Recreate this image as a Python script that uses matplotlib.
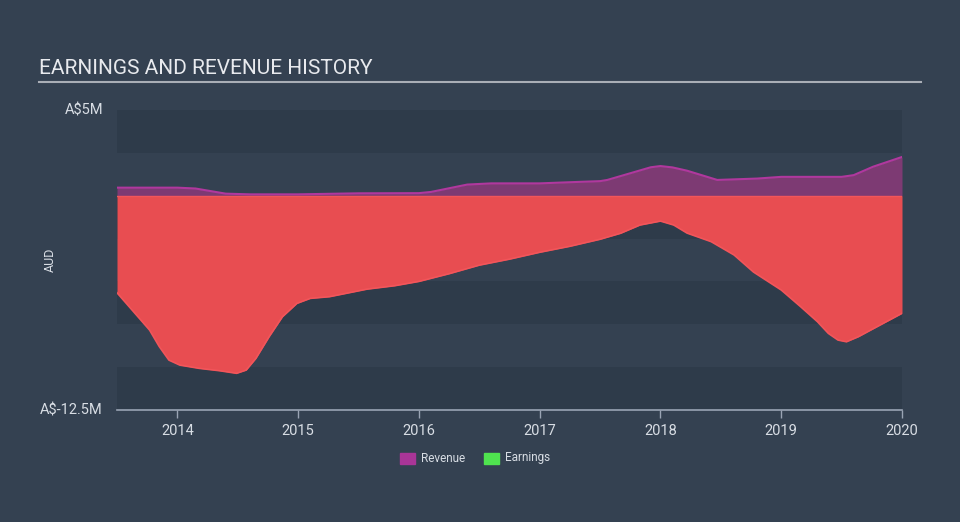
import matplotlib.pyplot as plt
import numpy as np

plt.rcParams['font.family'] = ['Roboto', 'DejaVu Sans']

# Data (A$ millions)
earn_years = [2013.5, 2013.77, 2013.85, 2013.93, 2014.02, 2014.18, 2014.35, 2014.49,
              2014.57, 2014.65, 2014.76, 2014.87, 2014.99, 2015.1, 2015.26, 2015.57,
              2015.8, 2016.0, 2016.25, 2016.5, 2016.75, 2017.0, 2017.25, 2017.5,
              2017.67, 2017.83, 2018.0, 2018.11, 2018.22, 2018.42, 2018.61, 2018.77,
              2019.0, 2019.16, 2019.3, 2019.39, 2019.47, 2019.54, 2019.64, 2019.74,
              2020.0]
earnings = [-5.66, -7.84, -8.8, -9.59, -9.88, -10.07, -10.21, -10.36,
            -10.17, -9.49, -8.22, -7.06, -6.28, -5.99, -5.89, -5.45,
            -5.25, -5.0, -4.55, -4.05, -3.7, -3.3, -2.95, -2.54,
            -2.19, -1.71, -1.48, -1.71, -2.18, -2.68, -3.46, -4.45,
            -5.5, -6.47, -7.35, -8.03, -8.42, -8.52, -8.22, -7.84,
            -6.86]
rev_years = [2013.5, 2014.0, 2014.15, 2014.4, 2014.6, 2015.0, 2015.5, 2016.0,
             2016.1, 2016.4, 2016.6, 2017.0, 2017.3, 2017.5, 2017.56, 2017.75,
             2017.92, 2018.0, 2018.1, 2018.22, 2018.47, 2018.8, 2019.0, 2019.5,
             2019.6, 2019.76, 2020.0]
revenue = [0.47, 0.47, 0.42, 0.12, 0.08, 0.08, 0.14, 0.15,
           0.22, 0.65, 0.72, 0.72, 0.8, 0.85, 0.92, 1.31,
           1.66, 1.73, 1.65, 1.46, 0.92, 1.0, 1.1, 1.1,
           1.2, 1.69, 2.26]
year_ticks = [2014, 2015, 2016, 2017, 2018, 2019, 2020]
y_min, y_max = -12.5, 5

COLORS = {
    'bg': '#344151',
    'band': '#2e3b4a',
    'revenue_fill': '#7d3a73',
    'revenue_line': '#b0389e',
    'earnings_fill': '#e84d51',
    'earnings_line': '#f2555a',
    'legend_rev': '#a93597',
    'legend_earn': '#4fe34f',
    'text': '#d8dde4',
    'axis': '#9aa4b4',
}

fig = plt.figure(figsize=(9.6, 5.22), dpi=100, facecolor=COLORS['bg'])
ax = fig.add_axes([117 / 960, 112 / 522, 785 / 960, 300 / 522])
ax.set_facecolor(COLORS['bg'])

# alternating horizontal bands every 2.5M
edges = np.arange(y_max, y_min - 0.01, -2.5)
for i in range(len(edges) - 1):
    if i % 2 == 0:
        ax.axhspan(edges[i + 1], edges[i], color=COLORS['band'], lw=0, zorder=0)

ax.fill_between(rev_years, 0, revenue, color=COLORS['revenue_fill'], lw=0, zorder=2)
ax.plot(rev_years, revenue, color=COLORS['revenue_line'], lw=1.5, zorder=3)
ax.fill_between(earn_years, 0, earnings, color=COLORS['earnings_fill'], lw=0, zorder=4)
ax.plot(earn_years, earnings, color=COLORS['earnings_line'], lw=1.2, zorder=5)
ax.axhline(0, color=COLORS['earnings_line'], lw=1, zorder=5)

ax.set_xlim(2013.5, 2020.0)
ax.set_ylim(y_min, y_max)
for side in ['top', 'right', 'left']:
    ax.spines[side].set_visible(False)
ax.spines['bottom'].set_color(COLORS['axis'])
ax.spines['bottom'].set_linewidth(1.2)
ax.set_xticks(year_ticks)
ax.set_xticklabels([str(y) for y in year_ticks])
ax.tick_params(axis='x', colors=COLORS['axis'], length=6, width=1, labelsize=10.5,
               labelcolor=COLORS['text'], pad=4)
ax.set_yticks([])

# y labels
fig.text(103 / 960, 1 - 110 / 522, 'A$5M', ha='right', va='center',
         color=COLORS['text'], fontsize=10.5)
fig.text(103 / 960, 1 - 410 / 522, 'A$-12.5M', ha='right', va='center',
         color=COLORS['text'], fontsize=10.5)
fig.text(50 / 960, 1 - 260 / 522, 'AUD', ha='center', va='center', rotation=90,
         color=COLORS['text'], fontsize=9)

# title with underline
fig.text(39 / 960, 1 - 69 / 522, 'EARNINGS AND REVENUE HISTORY', ha='left', va='center',
         color='#e8eaee', fontsize=15)
fig.add_artist(plt.Line2D([39 / 960, 921 / 960], [1 - 82 / 522, 1 - 82 / 522],
                          color='#a9aeb6', lw=1.5, transform=fig.transFigure))

# legend
legend_y = 1 - 458 / 522
fig.patches.append(plt.Rectangle((400 / 960, legend_y - 5.5 / 522), 15 / 960, 11 / 522,
                                 color=COLORS['legend_rev'], transform=fig.transFigure))
fig.text(421 / 960, legend_y, 'Revenue', ha='left', va='center',
         color=COLORS['text'], fontsize=8.5)
fig.patches.append(plt.Rectangle((484 / 960, legend_y - 5.5 / 522), 15 / 960, 11 / 522,
                                 color=COLORS['legend_earn'], transform=fig.transFigure))
fig.text(505 / 960, legend_y, 'Earnings', ha='left', va='center',
         color=COLORS['text'], fontsize=8.5)

fig.savefig('out.png', dpi=100, facecolor=COLORS['bg'])
